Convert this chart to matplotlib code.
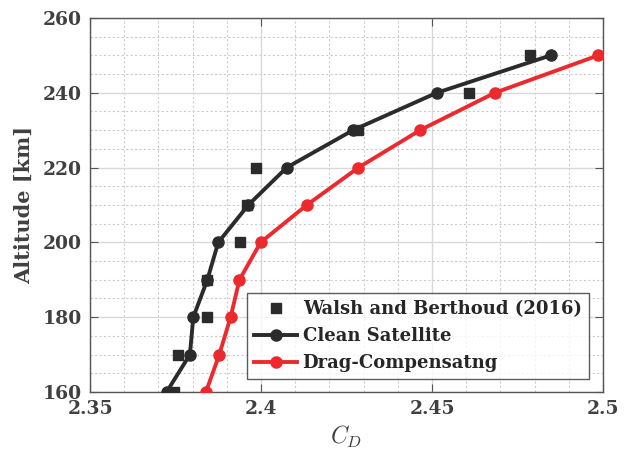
import matplotlib
matplotlib.use("Agg")
import matplotlib.pyplot as plt
from matplotlib.ticker import MultipleLocator

altitude = [160, 170, 180, 190, 200, 210, 220, 230, 240, 250]
walsh_alt = [160, 170, 180, 190, 200, 210, 220, 230, 240, 250]
walsh_cd = [2.3746, 2.3758, 2.3841, 2.3843, 2.3939, 2.3960, 2.3984, 2.4284, 2.4609, 2.4787]
clean_cd = [2.3724, 2.3792, 2.3802, 2.3843, 2.3875, 2.3963, 2.4075, 2.4269, 2.4514, 2.4847]
drag_cd = [2.3839, 2.3878, 2.3911, 2.3937, 2.3999, 2.4134, 2.4285, 2.4465, 2.4684, 2.4986]

xticks = [2.35, 2.4, 2.45, 2.5]
xticklabels = ["2.35", "2.4", "2.45", "2.5"]
yticks = [160, 180, 200, 220, 240, 260]

black = "#2b2b2b"
red = "#ec2a2e"
plt.rcParams['font.family'] = ['DejaVu Serif']
plt.rcParams['mathtext.fontset'] = 'cm'

fig = plt.figure(figsize=(6.26, 4.54), dpi=100)
ax = fig.add_axes([0.1438, 0.1366, 0.8195, 0.8238])

ax.plot(walsh_cd, walsh_alt, linestyle='none', marker='s', ms=7, color=black,
        label='Walsh and Berthoud (2016)', zorder=4)
ax.plot(clean_cd, altitude, '-o', color=black, lw=2.8, ms=8,
        label='Clean Satellite', zorder=3)
ax.plot(drag_cd, altitude, '-o', color=red, lw=2.8, ms=8,
        label='Drag-Compensatng', zorder=3)

ax.set_xlim(2.35, 2.5)
ax.set_ylim(160, 260)
ax.set_xticks(xticks)
ax.set_xticklabels(xticklabels)
ax.set_yticks(yticks)
ax.xaxis.set_minor_locator(MultipleLocator(0.01))
ax.yaxis.set_minor_locator(MultipleLocator(5))
ax.grid(True, which='major', color='#d9d9d9', lw=1.0, ls='-')
ax.grid(True, which='minor', color='#cccccc', lw=0.8, ls=(0, (2, 2)))
ax.set_axisbelow(True)
ax.tick_params(which='both', direction='in', top=True, right=True, color='#555555')
ax.tick_params(which='major', length=6, labelsize=13.5, labelcolor='#404040', pad=6)
ax.tick_params(which='minor', length=0)
for lab in ax.get_xticklabels() + ax.get_yticklabels():
    lab.set_fontweight('bold')
for s in ax.spines.values():
    s.set_color('#555555')
    s.set_linewidth(1.0)

ax.set_xlabel(r'$C_D$', fontsize=17, color='#404040', labelpad=4)
ax.set_ylabel('Altitude [km]', fontsize=15, fontweight='bold', color='#404040', labelpad=6)

leg = ax.legend(loc='lower right', prop={'weight': 'bold', 'size': 13},
                handlelength=2.4, handletextpad=0.3, borderpad=0.4, labelspacing=0.5,
                frameon=True, fancybox=False, edgecolor='#333333',
                bbox_to_anchor=(0.99, 0.01))
leg.get_frame().set_linewidth(1.0)
for t in leg.get_texts():
    t.set_color('#262626')

fig.savefig('out.png', dpi=100)
